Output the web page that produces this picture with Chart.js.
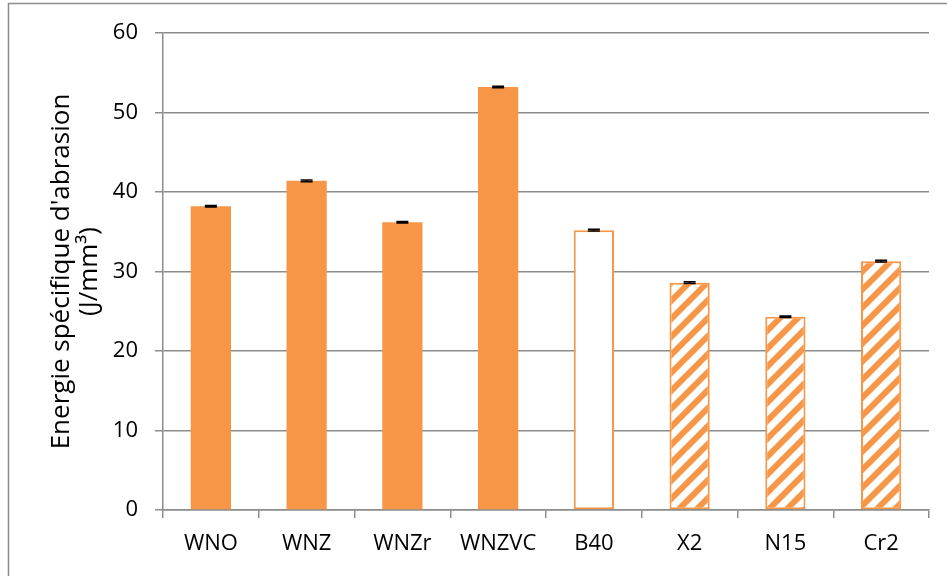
<!DOCTYPE html>
<html>
<head>
<meta charset="utf-8">
<script src="https://cdn.jsdelivr.net/npm/chart.js@4.4.1/dist/chart.umd.min.js"></script>
<style>
  html, body { margin: 0; padding: 0; background: #fff; }
  #wrap { width: 947px; height: 576px; position: relative; }
</style>
</head>
<body>
<div id="wrap"><canvas id="chart" width="947" height="576"></canvas></div>
<script>
/* ── data ── */
const categories = ['WNO', 'WNZ', 'WNZr', 'WNZVC', 'B40', 'X2', 'N15', 'Cr2'];
const energy     = [38.2, 41.4, 36.2, 53.2, 35.2, 28.6, 24.3, 31.3];
const errors     = [0.1, 0.1, 0.1, 0.1, 0.1, 0.1, 0.1, 0.1];
const fillKind   = ['solid', 'solid', 'solid', 'solid', 'empty', 'hatch', 'hatch', 'hatch'];
const yTicks     = [0, 10, 20, 30, 40, 50, 60];

const ORANGE = '#F79646';
const GRID   = '#8c8c8c';
const FONT   = '"Open Sans", sans-serif';

/* diagonal "/" stripes, orange on white */
function makeHatch() {
  const T = 18;
  const c = document.createElement('canvas');
  c.width = T; c.height = T;
  const g = c.getContext('2d');
  g.fillStyle = '#fff';
  g.fillRect(0, 0, T, T);
  g.strokeStyle = ORANGE;
  g.lineWidth = 6;
  [0, T, 2 * T].forEach(k => {
    g.beginPath();
    g.moveTo(-2, k + 2);
    g.lineTo(k + 2, -2);
    g.stroke();
  });
  return g.createPattern(c, 'repeat');
}
const hatch = makeHatch();

const bgColors = fillKind.map(k => k === 'solid' ? ORANGE : k === 'empty' ? '#fff' : hatch);
const borderW  = fillKind.map(k => k === 'solid' ? 0 : 2);

/* small black error caps on top of each bar */
const errorBars = {
  id: 'errorBars',
  afterDatasetsDraw(chart) {
    const { ctx, scales: { y } } = chart;
    const meta = chart.getDatasetMeta(0);
    ctx.save();
    ctx.strokeStyle = '#000';
    ctx.lineWidth = 1.5;
    meta.data.forEach((bar, i) => {
      const hi = y.getPixelForValue(energy[i] + errors[i]);
      const lo = y.getPixelForValue(energy[i] - errors[i]);
      ctx.beginPath();
      ctx.moveTo(bar.x, hi); ctx.lineTo(bar.x, lo);
      ctx.moveTo(bar.x - 6, hi); ctx.lineTo(bar.x + 6, hi);
      ctx.moveTo(bar.x - 6, lo); ctx.lineTo(bar.x + 6, lo);
      ctx.stroke();
    });
    ctx.restore();
  },
};

/* outer frame of the chart object */
const frame = {
  id: 'frame',
  beforeDraw(chart) {
    const { ctx } = chart;
    ctx.save();
    ctx.strokeStyle = GRID;
    ctx.lineWidth = 1.5;
    ctx.strokeRect(8.5, 3.5, 960, 600);
    ctx.restore();
  },
};

new Chart(document.getElementById('chart'), {
  type: 'bar',
  data: {
    labels: categories,
    datasets: [{
      data: energy,
      backgroundColor: bgColors,
      borderColor: ORANGE,
      borderWidth: borderW,
      borderSkipped: false,
      categoryPercentage: 1,
      barPercentage: 0.42,
    }],
  },
  options: {
    responsive: false,
    animation: false,
    layout: { padding: { top: 33, right: 18, bottom: 0, left: 0 } },
    plugins: {
      legend: { display: false },
      tooltip: { enabled: false },
    },
    scales: {
      x: {
        afterFit: s => { s.height = 66; },
        grid: {
          offset: true,
          drawOnChartArea: false,
          drawTicks: true,
          tickLength: 8,
          color: GRID,
          lineWidth: 1.5,
        },
        border: { display: true, color: GRID, width: 1.5 },
        ticks: {
          color: '#000',
          padding: 13,
          font: { family: FONT, size: 22 },
        },
      },
      y: {
        min: 0,
        max: 60,
        afterFit: s => { s.width = 163; },
        afterBuildTicks: s => { s.ticks = yTicks.map(v => ({ value: v })); },
        grid: {
          color: GRID,
          lineWidth: 1.5,
          tickLength: 8,
        },
        border: { display: true, color: GRID, width: 1.5 },
        ticks: {
          color: '#000',
          padding: 17,
          font: { family: FONT, size: 22 },
        },
        title: {
          display: true,
          text: ["Energie spécifique d'abrasion", '(J/mm³)'],
          color: '#000',
          font: { family: FONT, size: 26, lineHeight: 28 / 26 },
          padding: { top: 48 },
        },
      },
    },
  },
  plugins: [frame, errorBars],
});
</script>
</body>
</html>
